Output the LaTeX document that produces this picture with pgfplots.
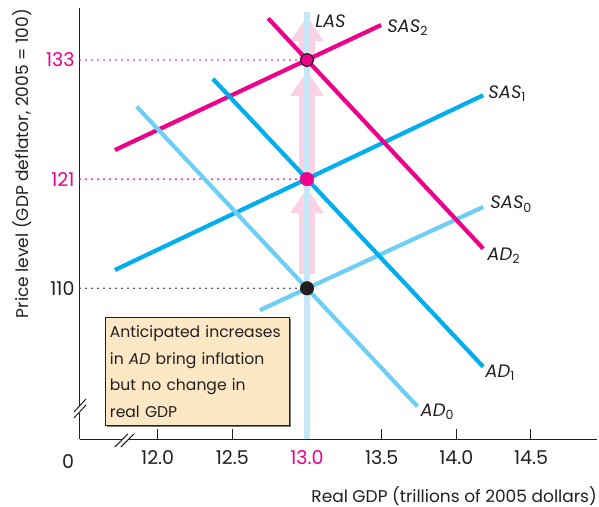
\documentclass[border=0pt]{standalone}
\usepackage{fontspec}
\setmainfont{Poppins}
\usepackage{pgfplots}
\pgfplotsset{compat=1.18}
\usetikzlibrary{arrows.meta,shadows}

\definecolor{mag}{HTML}{EC008C}
\definecolor{blu}{HTML}{00AEEF}
\definecolor{lblu}{HTML}{6DCFF6}
\definecolor{lasc}{HTML}{C6E7F7}
\definecolor{pk}{HTML}{F9D2E3}
\definecolor{peach}{HTML}{FDE8C6}
\definecolor{txt}{HTML}{231F20}

\begin{document}
\begin{tikzpicture}[font=\fontsize{17bp}{20bp}\selectfont, text=txt]
\begin{axis}[name=ax, scale only axis, width=517bp, height=431bp,
  xmin=11.48, xmax=14.942, ymin=94.82, ymax=138.24,
  axis x line=bottom, axis y line=left,
  axis line style={-, line width=1bp, color=txt},
  clip=false,
  xtick={12,12.5,13,13.5,14,14.5},
  xticklabels={12.0,12.5,\textcolor{mag}{13.0},13.5,14.0,14.5},
  ytick={110,121,133},
  yticklabels={110,\textcolor{mag}{121},\textcolor{mag}{133}},
  tick align=inside, major tick length=10bp,
  x tick style={line width=1bp, color=txt},
  y tick style={draw=none},
  xticklabel style={font=\fontsize{19bp}{22bp}\selectfont, text=txt, yshift=-8bp},
  yticklabel style={font=\fontsize{19bp}{22bp}\selectfont, text=txt, xshift=-2bp},
]
% pink arrows
\addplot[draw=pk, line width=16bp, -{Triangle[width=32bp,length=25bp]}] coordinates {(13,111.4) (13,120.1)};
\addplot[draw=pk, line width=16bp, -{Triangle[width=32bp,length=25bp]}] coordinates {(13,121) (13,131.9)};
\addplot[draw=pk, line width=16bp, -{Triangle[width=32bp,length=25bp]}] coordinates {(13,133) (13,137.4)};
% LAS
\addplot[draw=lasc, line width=5.5bp] coordinates {(13,94.82) (13,137.8)};
% dotted guides
\addplot[draw=txt, line width=1.8bp, dash pattern=on 0bp off 6bp, line cap=round] coordinates {(11.48,110) (13,110)};
\addplot[draw=mag, line width=1.8bp, dash pattern=on 0bp off 6bp, line cap=round] coordinates {(11.48,121) (13,121)};
\addplot[draw=mag, line width=1.8bp, dash pattern=on 0bp off 6bp, line cap=round] coordinates {(11.48,133) (13,133)};
% SAS curves
\addplot[draw=lblu, line width=4.2bp] coordinates {(12.685,107.8) (14.18,118.2)};
\addplot[draw=blu, line width=4.2bp] coordinates {(11.714,111.85) (14.18,129.45)};
\addplot[draw=mag, line width=4.2bp] coordinates {(11.714,123.93) (13.496,136.52)};
% AD curves
\addplot[draw=lblu, line width=4.2bp] coordinates {(11.86,128.3) (13.74,98.1)};
\addplot[draw=blu, line width=4.2bp] coordinates {(12.37,131.1) (14.18,102.1)};
\addplot[draw=mag, line width=4.2bp] coordinates {(12.74,137.2) (14.18,114.0)};
% equilibrium points
\addplot[only marks, mark=*, mark size=6.8bp, mark options={fill=txt, draw=txt}] coordinates {(13,110)};
\addplot[only marks, mark=*, mark size=6.8bp, mark options={fill=mag, draw=mag}] coordinates {(13,121)};
\addplot[only marks, mark=*, mark size=6.3bp, mark options={fill=mag, draw=txt, line width=1.2bp}] coordinates {(13,133)};

% curve labels
\def\lf{\fontsize{18bp}{20bp}\selectfont\itshape}
\node[anchor=base west, font=\lf, inner sep=0pt] at (axis cs:13.054,136.3) {LAS};
\node[anchor=base west, font=\lf, inner sep=0pt, xshift=6bp, yshift=-7bp] at (axis cs:13.496,136.52) {SAS\textsubscript{\upshape 2}};
\node[anchor=base west, font=\lf, inner sep=0pt, xshift=5bp, yshift=-3bp] at (axis cs:14.18,129.45) {SAS\textsubscript{\upshape 1}};
\node[anchor=base west, font=\lf, inner sep=0pt, xshift=7bp, yshift=-2bp] at (axis cs:14.18,118.2) {SAS\textsubscript{\upshape 0}};
\node[anchor=base west, font=\lf, inner sep=0pt, xshift=4bp, yshift=-12bp] at (axis cs:14.18,114.0) {AD\textsubscript{\upshape 2}};
\node[anchor=base west, font=\lf, inner sep=0pt, xshift=2bp, yshift=-11bp] at (axis cs:14.18,102.1) {AD\textsubscript{\upshape 1}};
\node[anchor=base west, font=\lf, inner sep=0pt, xshift=3bp, yshift=-10bp] at (axis cs:13.74,98.1) {AD\textsubscript{\upshape 0}};

% text box
\node[draw=txt, line width=1bp, fill=peach, anchor=north west,
  drop shadow={shadow xshift=1.2bp, shadow yshift=-1.2bp, fill=txt!60, opacity=1},
  text width=175bp, inner xsep=4.5bp, inner ysep=0bp, minimum height=108bp,
  align=left, font=\fontsize{15.6bp}{26.7bp}\selectfont]
  at (axis cs:11.647,107.11) {\mbox{Anticipated increases}\\ \mbox{in \textit{AD} bring inflation}\\ but no change in\\ real GDP};

% axis breaks
\fill[white] ([shift={(-3bp,-8bp)}]axis cs:11.48,98.25) rectangle ([shift={(3bp,-2bp)}]axis cs:11.48,98.25);
\draw[line width=1bp, txt] ([shift={(-6bp,-13bp)}]axis cs:11.48,98.25) -- ++(12bp,13bp);
\draw[line width=1bp, txt] ([shift={(-6bp,-7bp)}]axis cs:11.48,98.25) -- ++(12bp,13bp);
\fill[white] ([shift={(-3bp,-3bp)}]axis cs:11.78,94.82) rectangle ([shift={(3bp,3bp)}]axis cs:11.78,94.82);
\draw[line width=1bp, txt] ([shift={(-10bp,-8bp)}]axis cs:11.78,94.82) -- ++(13bp,13bp);
\draw[line width=1bp, txt] ([shift={(-4bp,-8bp)}]axis cs:11.78,94.82) -- ++(13bp,13bp);

% origin label
\node[font=\fontsize{19bp}{22bp}\selectfont] at ([shift={(-12bp,-23bp)}]axis cs:11.48,94.82) {0};
\end{axis}
% axis titles
\node[anchor=north east, inner sep=0pt] at ([shift={(0bp,-47bp)}]ax.south east) {Real GDP (trillions of 2005 dollars)};
\node[anchor=north east, inner sep=0pt, rotate=90] at ([shift={(-68bp,-1bp)}]ax.north west) {Price level (GDP deflator, 2005 = 100)};
\pgfresetboundingbox
\path[use as bounding box] ([shift={(-80bp,-68bp)}]ax.south west) rectangle ([shift={(2bp,8bp)}]ax.north east);
\end{tikzpicture}
\end{document}
